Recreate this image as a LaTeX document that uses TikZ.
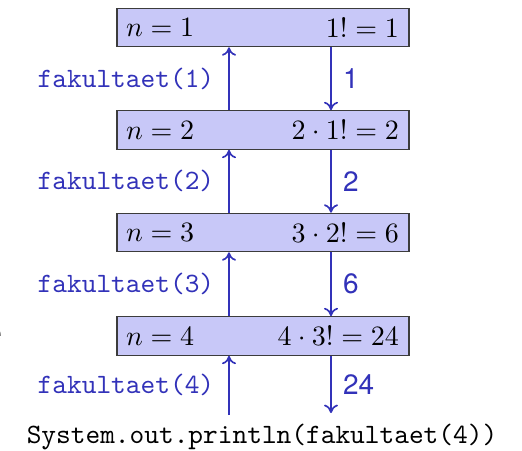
\documentclass[tikz,border=0pt]{standalone}
\usepackage{fontspec}
\newfontfamily\helv{TeX Gyre Heros}
\usetikzlibrary{arrows.meta}
\definecolor{arrc}{RGB}{50,50,185}
\definecolor{boxfill}{RGB}{200,200,248}
\definecolor{boxline}{RGB}{60,60,60}
\begin{document}
\begin{tikzpicture}[x=0.3571pt,y=-0.3571pt,
  framebox/.style={draw=boxline, fill=boxfill, line width=0.45pt, minimum width=104.3pt, minimum height=13.7pt, inner sep=0pt},
  arr/.style={draw=arrc, line width=0.6pt, -{To[length=3pt,width=5pt]}},
  calllab/.style={text=arrc, font=\ttfamily, inner sep=0pt, anchor=east, xshift=-5pt},
  retlab/.style={text=arrc, font=\helv, inner sep=0pt, anchor=west, xshift=4pt}]
\useasboundingbox (0,0) rectangle (522,451);
\coordinate (L) at (229,0);
\coordinate (R) at (331,0);
\node[framebox] (b1) at (263,27.5) {};
\node[framebox] (b2) at (263,130) {};
\node[framebox] (b3) at (263,232.5) {};
\node[framebox] (b4) at (263,336) {};
\node[anchor=west, inner sep=0pt] (l1) at ([xshift=3.3pt]b1.west) {$n=1$};
\node[anchor=east, inner sep=0pt] (r1) at ([xshift=-3.6pt]b1.east) {$1!=1$};
\node[anchor=west, inner sep=0pt] (l2) at ([xshift=3.3pt]b2.west) {$n=2$};
\node[anchor=east, inner sep=0pt] (r2) at ([xshift=-3.6pt]b2.east) {$2\cdot 1!=2$};
\node[anchor=west, inner sep=0pt] (l3) at ([xshift=3.3pt]b3.west) {$n=3$};
\node[anchor=east, inner sep=0pt] (r3) at ([xshift=-3.6pt]b3.east) {$3\cdot 2!=6$};
\node[anchor=west, inner sep=0pt] (l4) at ([xshift=3.3pt]b4.west) {$n=4$};
\node[anchor=east, inner sep=0pt] (r4) at ([xshift=-3.6pt]b4.east) {$4\cdot 3!=24$};
\node[font=\ttfamily, inner sep=0pt] (call) at (262,437) {System.out.println(fakultaet(4))};
\coordinate (s1) at (229,415);
\coordinate (s2) at (331,413);
\draw[arr] (b2.north -| L) -- node[calllab, midway] (c1) {fakultaet(1)} (b1.south -| L);
\draw[arr] (b1.south -| R) -- node[retlab, midway] (v1) {1} (b2.north -| R);
\draw[arr] (b3.north -| L) -- node[calllab, midway] (c2) {fakultaet(2)} (b2.south -| L);
\draw[arr] (b2.south -| R) -- node[retlab, midway] (v2) {2} (b3.north -| R);
\draw[arr] (b4.north -| L) -- node[calllab, midway] (c3) {fakultaet(3)} (b3.south -| L);
\draw[arr] (b3.south -| R) -- node[retlab, midway] (v3) {6} (b4.north -| R);
\draw[arr] (s1) -- node[calllab, midway] (c4) {fakultaet(4)} (b4.south -| L);
\draw[arr] (b4.south -| R) -- node[retlab, midway] (v4) {24} (s2);
\node[anchor=east, inner sep=0pt, font=\helv\large] (frag) at (2.5,336) {e};
\end{tikzpicture}
\end{document}
